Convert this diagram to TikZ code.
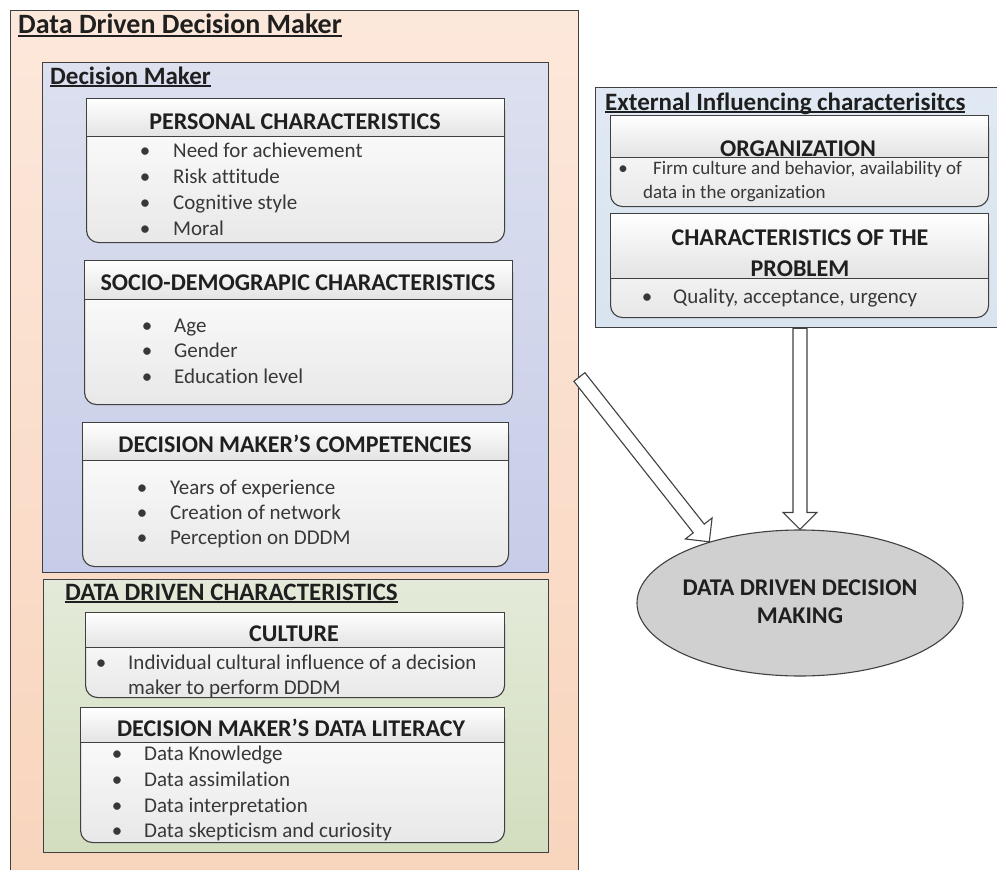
\documentclass[tikz,border=0pt]{standalone}
\usepackage{fontspec}
\setmainfont{Carlito}[Ligatures={NoCommon}]
\usetikzlibrary{calc,shapes.geometric}
\definecolor{bordc}{HTML}{404040}
\definecolor{peachT}{HTML}{FCE8DB}
\definecolor{peachB}{HTML}{F8D4BC}
\definecolor{blueT}{HTML}{DCE0EF}
\definecolor{blueB}{HTML}{C7CDE8}
\definecolor{greenT}{HTML}{E4EAD9}
\definecolor{greenB}{HTML}{D2DEBF}
\definecolor{extT}{HTML}{E0E9F3}
\definecolor{extB}{HTML}{D9E4F0}
\definecolor{ellC}{HTML}{D0D0D0}
\definecolor{txtC}{HTML}{383838}
\newcommand\myul[1]{\setbox0\hbox{#1}\rlap{\rule[-2.8pt]{\wd0}{1.4pt}}\box0}
\newcommand\bline[5]{\node[bul] (#1b) at (#2,#4) {\textbullet}; \node[txt] (#1) at (#3,#4) {#5};}
\newcommand\mycard[6]{%
  \node[card, minimum width=#4pt, minimum height=#5pt] (#1) at (#2,#3) {};
  \node[hdr, minimum width=#4pt, minimum height=#6pt] (#1h) at (#2,#3) {};}
\newcommand\hollowarrow[2]{%
  \coordinate (hb) at ($(#2)!17pt!(#1)$);
  \draw[blockar] ($(#1)!7pt!90:(#2)$) -- ($(hb)!7pt!90:(#2)$) -- ($(hb)!17pt!90:(#2)$) -- (#2)
    -- ($(hb)!17pt!-90:(#2)$) -- ($(hb)!7pt!-90:(#2)$) -- ($(#1)!7pt!-90:(#2)$) -- cycle;}
\begin{document}
\begin{tikzpicture}[x=1pt,y=-1pt,
  panel/.style={draw=bordc, line width=1.4pt, inner sep=0pt, anchor=north west},
  card/.style={draw=bordc, line width=1.1pt, rounded corners=12pt, top color=white, bottom color=black!9, anchor=north west, inner sep=0pt},
  hdr/.style={draw=bordc, line width=1.1pt, top color=white, bottom color=black!11, anchor=north west, inner sep=0pt},
  htxt/.style={font=\fontsize{24}{29}\selectfont\bfseries, text=black!88, anchor=base, inner sep=0pt},
  ttl/.style={font=\fontsize{25}{30}\selectfont\bfseries, text=black!88, anchor=base west, inner sep=0pt},
  txt/.style={font=\fontsize{21}{26}\selectfont, text=txtC, anchor=base west, inner sep=0pt},
  stxt/.style={font=\fontsize{19}{24}\selectfont, text=txtC, anchor=base west, inner sep=0pt},
  bul/.style={txt, anchor=base},
  blockar/.style={draw=bordc, line width=1.1pt, fill=white, line join=miter}
]
\useasboundingbox (0,0) rectangle (997,870);

% outer panel
\node[panel, top color=peachT, bottom color=peachB, minimum width=568pt, minimum height=880pt] (outer) at (10,10) {};
\node[ttl, font=\fontsize{28}{33}\selectfont\bfseries] (outerT) at (18,34) {\myul{Data Driven Decision Maker}};

% decision maker panel
\node[panel, top color=blueT, bottom color=blueB, minimum width=506pt, minimum height=510pt] (dm) at (42,62) {};
\node[ttl] (dmT) at (50,84) {\myul{Decision Maker}};

\mycard{pc}{86}{98}{418}{144}{38}
\node[htxt] (pcT) at (295,129) {PERSONAL CHARACTERISTICS};
\bline{pc1}{145}{173}{157}{Need for achievement}
\bline{pc2}{145}{173}{183}{Risk attitude}
\bline{pc3}{145}{173}{209}{Cognitive style}
\bline{pc4}{145}{173}{235}{Moral}

\mycard{sd}{84}{260}{428}{144}{39}
\node[htxt] (sdT) at (298,290) {SOCIO-DEMOGRAPIC CHARACTERISTICS};
\bline{sd1}{147}{174}{332}{Age}
\bline{sd2}{147}{174}{357}{Gender}
\bline{sd3}{147}{174}{383}{Education level}

\mycard{cp}{82}{422}{426}{144}{38}
\node[htxt] (cpT) at (295,452) {DECISION MAKER’S COMPETENCIES};
\bline{cp1}{142}{170}{494}{Years of experience}
\bline{cp2}{142}{170}{519}{Creation of network}
\bline{cp3}{142}{170}{544}{Perception on DDDM}

% data driven characteristics panel
\node[panel, top color=greenT, bottom color=greenB, minimum width=505pt, minimum height=273pt] (dd) at (43,579) {};
\node[ttl] (ddT) at (65,600) {\myul{DATA DRIVEN CHARACTERISTICS}};

\mycard{cu}{85}{612}{419}{85}{35}
\node[htxt] (cuT) at (294,641) {CULTURE};
\bline{cu1}{101}{128}{669}{Individual cultural influence of a decision}
\node[txt] (cu2) at (128,694) {maker to perform DDDM};

\mycard{dl}{80}{707}{424}{135}{35}
\node[htxt] (dlT) at (291,736) {DECISION MAKER’S DATA LITERACY};
\bline{dl1}{117}{144}{760}{Data Knowledge}
\bline{dl2}{117}{144}{786}{Data assimilation}
\bline{dl3}{117}{144}{812}{Data interpretation}
\bline{dl4}{117}{144}{837}{Data skepticism and curiosity}

% external panel
\node[panel, top color=extT, bottom color=extB, minimum width=410pt, minimum height=240pt] (ext) at (595,87) {};
\node[ttl] (extT) at (605,110) {\myul{External Influencing characterisitcs}};

\mycard{og}{610}{115}{378}{91}{42}
\node[htxt] (ogT) at (798,156) {ORGANIZATION};
\node[bul, font=\fontsize{19}{24}\selectfont] (og1b) at (623,174) {\textbullet};
\node[stxt] (og1) at (653,174) {Firm culture and behavior, availability of};
\node[stxt] (og2) at (643,198) {data in the organization};

\mycard{pb}{610}{213}{378}{104}{65}
\node[htxt] (pbT1) at (800,245) {CHARACTERISTICS OF THE};
\node[htxt] (pbT2) at (800,276) {PROBLEM};
\bline{pb1}{647}{673}{303}{Quality, acceptance, urgency}

% result ellipse
\node[ellipse, draw=bordc, line width=1.1pt, fill=ellC, minimum width=326pt, minimum height=146pt, inner sep=0pt] (dddm) at (800,603) {};
\node[htxt] (dddmT1) at (800,595) {DATA DRIVEN DECISION};
\node[htxt] (dddmT2) at (800,623) {MAKING};

% arrows
\coordinate (a1s) at ($(outer.north east)+(0,367)$);
\coordinate (a1e) at (dddm.146);
\hollowarrow{a1s}{a1e}
\coordinate (a2s) at (dddm.north |- ext.south);
\coordinate (a2e) at (dddm.north);
\hollowarrow{a2s}{a2e}
\end{tikzpicture}
\end{document}
